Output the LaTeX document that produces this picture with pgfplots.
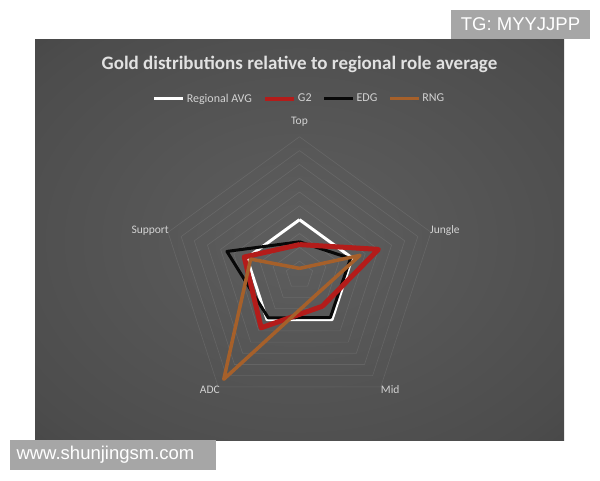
\documentclass[border=0pt]{standalone}
\usepackage{pgfplots}
\pgfplotsset{compat=1.18}
\usepackage{fontspec}
\setmainfont{Carlito}
\newfontfamily\wmfont{Liberation Sans}

\definecolor{panelin}{RGB}{94,94,94}
\definecolor{panelmid}{RGB}{76,76,76}
\definecolor{panelout}{RGB}{36,36,36}
\definecolor{labelc}{RGB}{210,210,210}
\definecolor{titlec}{RGB}{225,225,225}
\definecolor{gtwo}{RGB}{180,28,26}
\definecolor{edg}{RGB}{8,8,8}
\definecolor{rng}{RGB}{166,96,42}
\definecolor{boxgray}{RGB}{166,166,166}

\pgfdeclareradialshading{panel}{\pgfpoint{0bp}{0bp}}{%
  color(0bp)=(panelin); color(32bp)=(panelmid); color(72bp)=(panelout)}

\begin{document}
\begin{tikzpicture}
\path[use as bounding box] (0pt,0pt) rectangle (600pt,480pt);
\fill[white] (0pt,0pt) rectangle (600pt,480pt);
\shade[shading=panel] (35pt,40pt) rectangle (564pt,440pt);

\begin{axis}[
    at={(299.5pt,205pt)}, anchor=origin,
    x=55.3pt, y=55.3pt,
    xmin=-2.7, xmax=2.7, ymin=-2.7, ymax=2.7,
    axis lines=none, clip=false,
    title={Gold distributions relative to regional role average},
    title style={at={(0.5,1.185)}, anchor=center, font=\fontsize{19}{22}\selectfont\bfseries, text=titlec},
    legend columns=4,
    legend style={draw=none, fill=none, text=labelc, font=\fontsize{12}{14}\selectfont,
        at={(0.5,1.09)}, anchor=center,
        /tikz/every even column/.append style={column sep=9pt}},
    legend image code/.code={\draw[#1] (0pt,0pt) -- (29pt,0pt);},
    every axis plot/.append style={line join=round},
]
\addlegendimage{white, line width=3pt}
\addlegendentry{Regional AVG}
\addlegendimage{gtwo, line width=4pt}
\addlegendentry{G2}
\addlegendimage{edg, line width=3pt}
\addlegendentry{EDG}
\addlegendimage{rng, line width=3pt}
\addlegendentry{RNG}

% pentagon grid
\pgfplotsinvokeforeach{0.25,0.5,0.75,1,1.25,1.5,1.75,2,2.25,2.5}{
  \addplot[white, opacity=0.09, line width=0.6pt, data cs=polar, forget plot] coordinates {
    (90,#1) (18,#1) (-54,#1) (-126,#1) (162,#1) (90,#1)};
}

% order: Top, Jungle, Mid, ADC, Support
\addplot[white, line width=3pt, data cs=polar, forget plot] coordinates {
  (90,1) (18,1) (-54,1) (-126,1) (162,1) (90,1)};
\addplot[edg, line width=3pt, data cs=polar, forget plot] coordinates {
  (90,0.6) (18,0.97) (-54,0.95) (-126,0.96) (162,1.38) (90,0.6)};
\addplot[gtwo, line width=5pt, data cs=polar, forget plot] coordinates {
  (90,0.55) (18,1.5) (-54,0.7) (-126,1.18) (162,1.05) (90,0.55)};
\addplot[rng, line width=3.5pt, data cs=polar, forget plot] coordinates {
  (90,0.12) (18,1.15) (-54,0.47) (-126,2.33) (162,0.93) (90,0.12)};

\node[text=labelc, font=\fontsize{11.5}{13}\selectfont] at (axis cs:0,2.77) {Top};
\node[text=labelc, font=\fontsize{11.5}{13}\selectfont] at (axis cs:2.63,0.81) {Jungle};
\node[text=labelc, font=\fontsize{11.5}{13}\selectfont] at (axis cs:-2.70,0.81) {Support};
\node[text=labelc, font=\fontsize{11.5}{13}\selectfont] at (axis cs:-1.62,-2.08) {ADC};
\node[text=labelc, font=\fontsize{11.5}{13}\selectfont] at (axis cs:1.64,-2.08) {Mid};
\end{axis}

\fill[boxgray] (451pt,441pt) rectangle (590pt,470pt);
\node[text=white, font=\wmfont\fontsize{18.5}{20}\selectfont] at (520.5pt,455.5pt) {TG: MYYJJPP};
\fill[boxgray] (10pt,10pt) rectangle (216pt,40pt);
\node[text=white, font=\wmfont\fontsize{18.5}{20}\selectfont, anchor=west] at (13pt,25.5pt) {www.shunjingsm.com};
\end{tikzpicture}
\end{document}
